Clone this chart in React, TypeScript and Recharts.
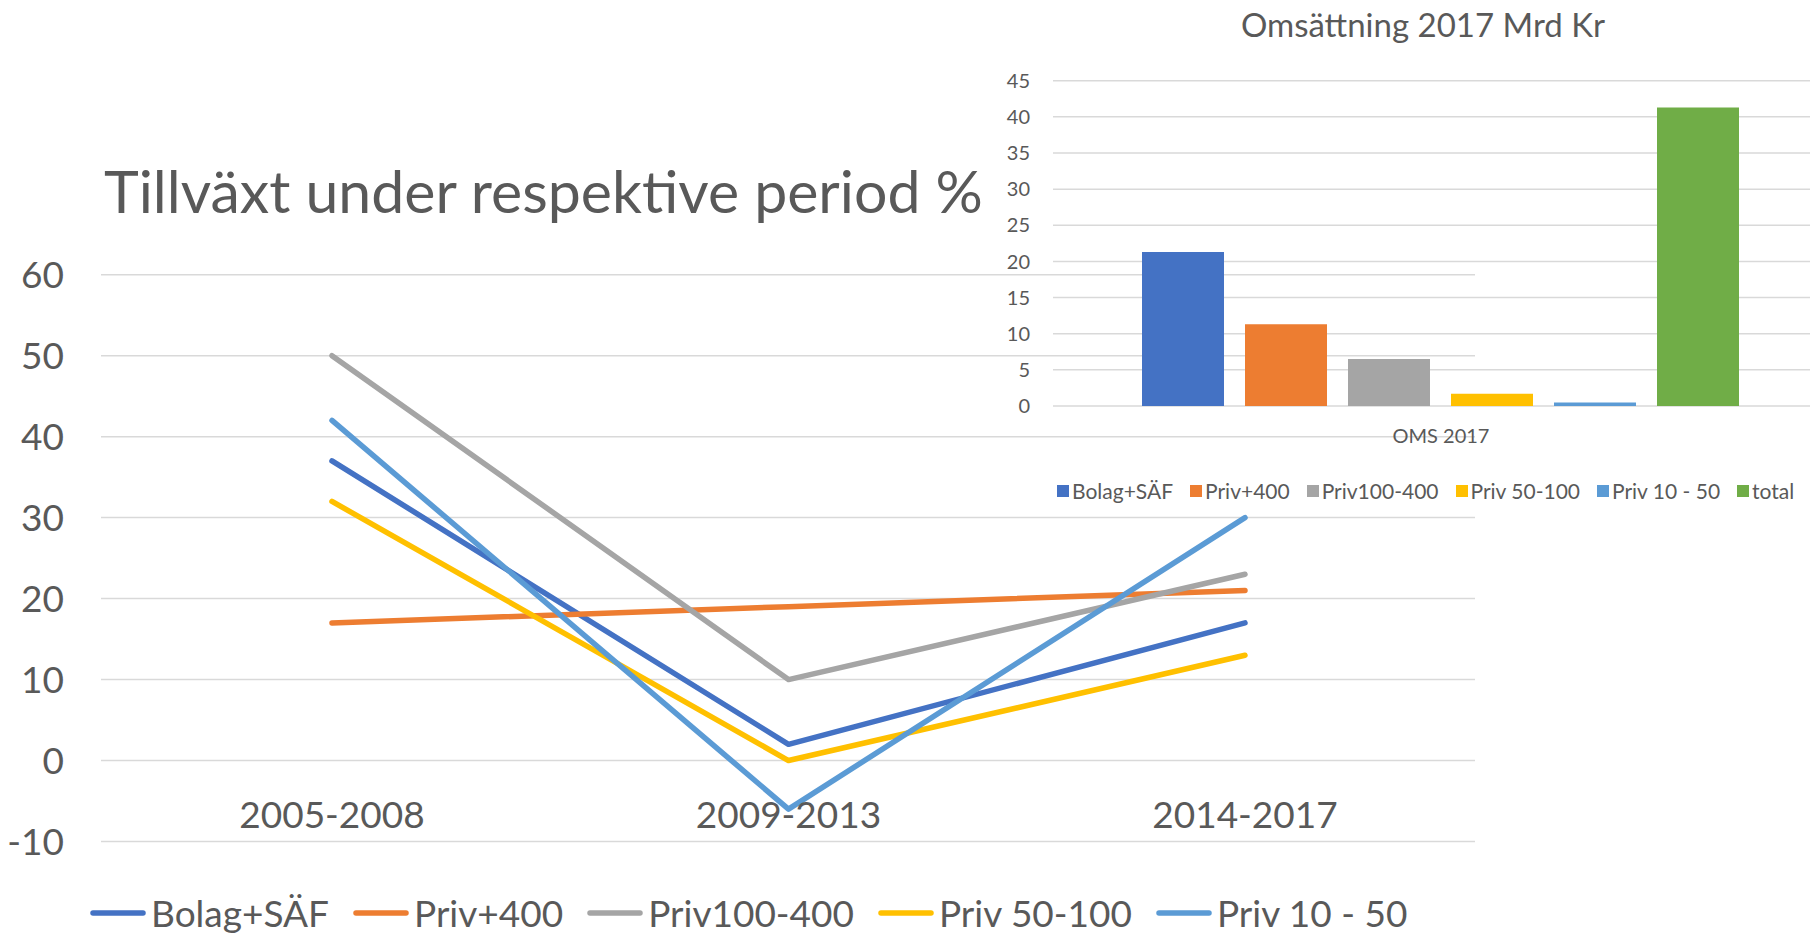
import { LineChart, Line, BarChart, Bar, XAxis, YAxis, CartesianGrid, Legend } from 'recharts';

const periods = ['2005-2008', '2009-2013', '2014-2017'];
const seriesNames = ['Bolag+SÄF', 'Priv+400', 'Priv100-400', 'Priv 50-100', 'Priv 10 - 50'];
const seriesKeys = ['bolag', 'priv400', 'priv100', 'priv50', 'priv10'];
const colors = ['#4472C4', '#ED7D31', '#A5A5A5', '#FFC000', '#5B9BD5'];

// tillväxt %, per period
const bolag = [37, 2, 17];
const priv400 = [17, 19, 21];
const priv100 = [50, 10, 23];
const priv50 = [32, 0, 13];
const priv10 = [42, -6, 30];
const growthTicks = [-10, 0, 10, 20, 30, 40, 50, 60];

// omsättning 2017, Mrd Kr
const omsCategory = 'OMS 2017';
const omsNames = ['Bolag+SÄF', 'Priv+400', 'Priv100-400', 'Priv 50-100', 'Priv 10 - 50', 'total'];
const omsKeys = ['bolag', 'priv400', 'priv100', 'priv50', 'priv10', 'total'];
const omsColors = ['#4472C4', '#ED7D31', '#A5A5A5', '#FFC000', '#5B9BD5', '#70AD47'];
const omsValues = [21.3, 11.3, 6.5, 1.7, 0.5, 41.3];
const omsTicks = [0, 5, 10, 15, 20, 25, 30, 35, 40, 45];

const FONT = 'Lato, "Open Sans", sans-serif';
const TEXT = '#595959';
const GRID = '#D9D9D9';

const seriesValues = [bolag, priv400, priv100, priv50, priv10];
const lineData = periods.map((p, i) => {
  const row: Record<string, string | number> = { period: p };
  seriesKeys.forEach((k, s) => (row[k] = seriesValues[s][i]));
  return row;
});

const barRow: Record<string, string | number> = { name: omsCategory };
omsKeys.forEach((k, i) => (barRow[k] = omsValues[i]));
const barData = [barRow];

// keep the legend in series order (recharts sorts by name otherwise)
const inOrder = (payload: any[] = [], order: string[]) =>
  [...payload].sort((a, b) => order.indexOf(a.value) - order.indexOf(b.value));

function LineLegend({ payload }: any) {
  return (
    <div style={{ display: 'flex', alignItems: 'center', height: 40, paddingLeft: 90, fontFamily: FONT }}>
      {inOrder(payload, seriesNames).map((e: any) => (
        <div key={e.value} style={{ display: 'flex', alignItems: 'center', marginRight: 24, whiteSpace: 'nowrap' }}>
          <svg width={56} height={10}>
            <line x1={3} x2={53} y1={5} y2={5} stroke={e.color} strokeWidth={5.5} strokeLinecap="round" />
          </svg>
          <span style={{ marginLeft: 5, fontSize: 37, lineHeight: '40px', color: TEXT }}>{e.value}</span>
        </div>
      ))}
    </div>
  );
}

function BarLegend({ payload }: any) {
  return (
    <div style={{ display: 'flex', alignItems: 'center', height: 24, paddingLeft: 77, fontFamily: FONT }}>
      {inOrder(payload, omsNames).map((e: any) => (
        <div key={e.value} style={{ display: 'flex', alignItems: 'center', marginRight: 17, whiteSpace: 'nowrap' }}>
          <div style={{ width: 12, height: 12, background: e.color }} />
          <span style={{ marginLeft: 3, fontSize: 21, lineHeight: '24px', color: TEXT }}>{e.value}</span>
        </div>
      ))}
    </div>
  );
}

const PeriodTick = ({ x, y, payload }: any) => (
  <text x={x} y={y - 13.5} textAnchor="middle" fontSize={37} fill={TEXT} fontFamily={FONT}>
    {payload.value}
  </text>
);

const OmsTick = ({ x, y, payload }: any) => (
  <text x={x} y={y + 37} textAnchor="middle" fontSize={20} fill={TEXT} fontFamily={FONT}>
    {payload.value}
  </text>
);

export default function App() {
  return (
    <div style={{ position: 'absolute', left: 0, top: 0, width: 1810, height: 935, overflow: 'hidden', background: '#fff' }}>
      <div style={{ position: 'absolute', left: 0, top: 0 }}>
        <LineChart width={1810} height={935} data={lineData} margin={{ top: 274.7, right: 335, bottom: 0, left: 0 }}>
          <CartesianGrid vertical={false} stroke={GRID} strokeWidth={1.5} />
          <XAxis
            dataKey="period"
            height={53.5}
            axisLine={false}
            tickLine={false}
            tickSize={0}
            tickMargin={0}
            padding={{ left: 231, right: 230 }}
            tick={<PeriodTick />}
          />
          <YAxis
            width={101}
            domain={[-10, 60]}
            ticks={growthTicks}
            axisLine={false}
            tickLine={false}
            tickSize={0}
            tickMargin={37}
            tick={{ fontSize: 37, fill: TEXT, fontFamily: FONT }}
          />
          <Legend verticalAlign="bottom" align="left" wrapperStyle={{ left: 0, bottom: 2, width: 1810 }} content={<LineLegend />} />
          {seriesKeys.map((k, i) => (
            <Line
              key={k}
              type="linear"
              dataKey={k}
              name={seriesNames[i]}
              stroke={colors[i]}
              strokeWidth={5.5}
              strokeLinecap="round"
              strokeLinejoin="round"
              dot={false}
              activeDot={false}
              isAnimationActive={false}
            />
          ))}
        </LineChart>
      </div>

      <div style={{ position: 'absolute', left: 980, top: 0, pointerEvents: 'none' }}>
        <BarChart
          width={849}
          height={520}
          data={barData}
          margin={{ top: 80.7, right: 0, bottom: 17, left: 0 }}
          barCategoryGap={89}
          barGap={21}
        >
          <CartesianGrid vertical={false} stroke={GRID} strokeWidth={1.5} />
          <XAxis dataKey="name" height={73} axisLine={false} tickLine={false} tickSize={0} tickMargin={0} tick={<OmsTick />} />
          <YAxis
            width={73}
            domain={[0, 45]}
            ticks={omsTicks}
            axisLine={false}
            tickLine={false}
            tickSize={0}
            tickMargin={23}
            tick={{ fontSize: 20, fill: TEXT, fontFamily: FONT }}
          />
          <Legend verticalAlign="bottom" align="left" wrapperStyle={{ left: 0, bottom: 17, width: 849 }} content={<BarLegend />} />
          {omsKeys.map((k, i) => (
            <Bar key={k} dataKey={k} name={omsNames[i]} fill={omsColors[i]} isAnimationActive={false} />
          ))}
        </BarChart>
      </div>

      <svg width={1810} height={935} style={{ position: 'absolute', left: 0, top: 0, pointerEvents: 'none' }}>
        <text x={104} y={213} fontSize={59} fill={TEXT} fontFamily={FONT}>
          Tillväxt under respektive period %
        </text>
        <text x={1423} y={37} fontSize={33} fill={TEXT} fontFamily={FONT} textAnchor="middle">
          Omsättning 2017 Mrd Kr
        </text>
      </svg>
    </div>
  );
}
